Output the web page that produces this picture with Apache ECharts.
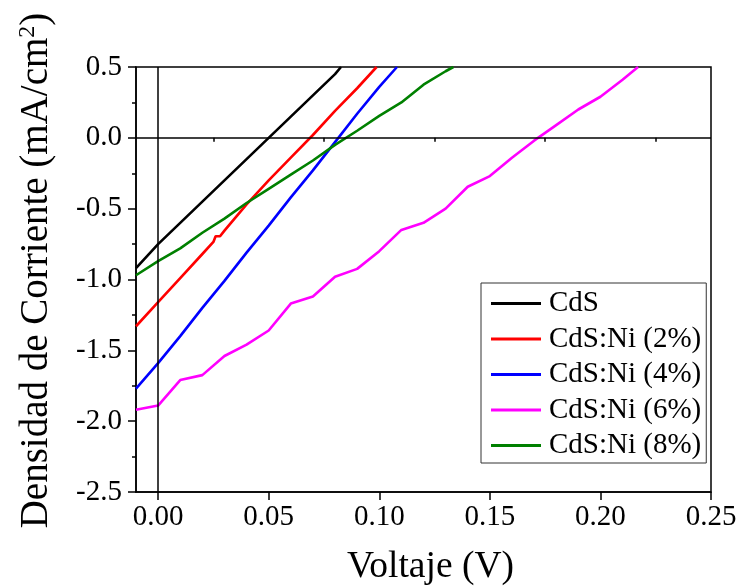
<!DOCTYPE html>
<html>
<head>
<meta charset="utf-8">
<script src="https://cdn.jsdelivr.net/npm/echarts@6/dist/echarts.min.js"></script>
<style>
    html, body { margin: 0; padding: 0; background: #fff; }
    #chart { width: 736px; height: 587px; }
</style>
</head>
<body>
<div id="chart"></div>
<script>
// voltage (V) and current density (mA/cm2)
var cdsV = [-0.01, 0, 0.01, 0.02, 0.03, 0.04, 0.05, 0.06, 0.07, 0.08, 0.0827];
var cdsJ = [-0.92, -0.75, -0.60, -0.45, -0.30, -0.15, 0.0, 0.15, 0.30, 0.45, 0.5];

var ni2V = [-0.01, 0, 0.01, 0.02, 0.025, 0.026, 0.028, 0.03, 0.04, 0.05, 0.06, 0.07, 0.08, 0.09, 0.0988];
var ni2J = [-1.33, -1.16, -0.99, -0.82, -0.735, -0.695, -0.695, -0.655, -0.47, -0.30, -0.14, 0.02, 0.19, 0.35, 0.5];

var ni4V = [-0.01, 0, 0.01, 0.02, 0.03, 0.04, 0.05, 0.06, 0.07, 0.08, 0.09, 0.10, 0.108];
var ni4J = [-1.77, -1.59, -1.40, -1.20, -1.01, -0.81, -0.62, -0.42, -0.23, -0.03, 0.17, 0.36, 0.5];

var ni6V = [-0.01, 0, 0.01, 0.02, 0.03, 0.04, 0.05, 0.06, 0.07, 0.08, 0.09, 0.10, 0.11, 0.12,
    0.13, 0.14, 0.15, 0.16, 0.17, 0.18, 0.19, 0.20, 0.21, 0.217];
var ni6J = [-1.92, -1.89, -1.71, -1.675, -1.54, -1.46, -1.36, -1.17, -1.12, -0.98, -0.925, -0.80, -0.65, -0.60,
    -0.50, -0.345, -0.27, -0.14, -0.02, 0.09, 0.20, 0.29, 0.41, 0.5];

var ni8V = [-0.01, 0, 0.01, 0.02, 0.03, 0.04, 0.05, 0.06, 0.07, 0.08, 0.09, 0.10, 0.11, 0.12, 0.13, 0.1335];
var ni8J = [-0.97, -0.87, -0.78, -0.67, -0.57, -0.46, -0.36, -0.26, -0.16, -0.05, 0.05, 0.155, 0.25, 0.375, 0.47, 0.5];

var names = ['CdS', 'CdS:Ni (2%)', 'CdS:Ni (4%)', 'CdS:Ni (6%)', 'CdS:Ni (8%)'];
var colors = ['#000000', '#ff0000', '#0000ff', '#ff00ff', '#008000'];

var xMajor = [0, 0.05, 0.10, 0.15, 0.20, 0.25];
var xMinor = [0.025, 0.075, 0.125, 0.175, 0.225];

var FONT = 'Liberation Serif';

function pairs(xs, ys) {
    var out = [];
    for (var i = 0; i < xs.length; i++) {
        out.push([xs[i], ys[i]]);
    }
    return out;
}

var allData = [
    pairs(cdsV, cdsJ),
    pairs(ni2V, ni2J),
    pairs(ni4V, ni4J),
    pairs(ni6V, ni6J),
    pairs(ni8V, ni8J)
];

var series = [];
for (var i = 0; i < names.length; i++) {
    series.push({
        name: names[i],
        type: 'line',
        data: allData[i],
        symbol: 'none',
        clip: true,
        lineStyle: { color: colors[i], width: 2.6 },
        itemStyle: { color: colors[i] },
        z: 3
    });
}

// zero lines
series[0].markLine = {
    silent: true,
    symbol: 'none',
    label: { show: false },
    lineStyle: { color: '#000', width: 1.5, type: 'solid' },
    data: [{ yAxis: 0 }, { xAxis: 0 }]
};

var myChart = echarts.init(document.getElementById('chart'));
var option = {
    animation: false,
    backgroundColor: '#fff',
    grid: {
        left: 136,
        right: 25,
        top: 67,
        bottom: 95,
        outerBoundsMode: 'none',
        containLabel: false,
        show: true,
        borderColor: '#000',
        borderWidth: 1.5,
        backgroundColor: 'transparent'
    },
    legend: {
        orient: 'vertical',
        left: 481,
        top: 283,
        data: names,
        icon: 'rect',
        itemWidth: 50,
        itemHeight: 3,
        itemGap: 6.5,
        padding: [6, 5, 3, 10],
        borderColor: '#333',
        borderWidth: 1,
        backgroundColor: '#fff',
        textStyle: {
            fontFamily: FONT,
            fontSize: 29,
            lineHeight: 29,
            color: '#000',
            padding: [0, 0, 0, 3]
        }
    },
    xAxis: [{
        type: 'value',
        min: -0.01,
        max: 0.25,
        name: 'Voltaje (V)',
        nameLocation: 'middle',
        nameGap: 56,
        nameTextStyle: { fontFamily: FONT, fontSize: 37.5, color: '#000', padding: [0, 0, 0, 14] },
        axisLine: { show: true, onZero: false, lineStyle: { color: '#000', width: 1.5 } },
        axisTick: { show: true, inside: false, length: 8, customValues: xMajor, lineStyle: { color: '#000', width: 1.5 } },
        axisLabel: {
            customValues: xMajor,
            fontFamily: FONT, fontSize: 29, color: '#000', margin: 11,
            formatter: function (v) { return v.toFixed(2); }
        },
        splitLine: { show: false }
    }, {
        type: 'value',
        min: -0.01,
        max: 0.25,
        position: 'bottom',
        axisLine: { show: false },
        axisTick: { show: true, inside: false, length: 4, customValues: xMinor, lineStyle: { color: '#000', width: 1.5 } },
        axisLabel: { show: false },
        splitLine: { show: false }
    }],
    yAxis: {
        type: 'value',
        min: -2.5,
        max: 0.5,
        interval: 0.5,
        name: 'Densidad de Corriente (mA/cm{sup|2})',
        nameLocation: 'middle',
        nameGap: 79,
        nameTextStyle: {
            fontFamily: FONT, fontSize: 39, color: '#000',
            padding: [0, 0, 0, 18],
            rich: {
                sup: { fontFamily: FONT, fontSize: 24, color: '#000', verticalAlign: 'top', padding: [0, 0, 17, 0] }
            }
        },
        axisLine: { show: true, onZero: false, lineStyle: { color: '#000', width: 1.5 } },
        axisTick: { show: true, inside: false, length: 8, lineStyle: { color: '#000', width: 1.5 } },
        minorTick: { show: true, splitNumber: 2, length: 4, lineStyle: { color: '#000', width: 1.5 } },
        axisLabel: {
            fontFamily: FONT, fontSize: 29, color: '#000', margin: 14,
            formatter: function (v) { return v.toFixed(1); }
        },
        splitLine: { show: false }
    },
    series: series
};

if (option && typeof option === "object") {
    myChart.setOption(option, true);
}
</script>
</body>
</html>
